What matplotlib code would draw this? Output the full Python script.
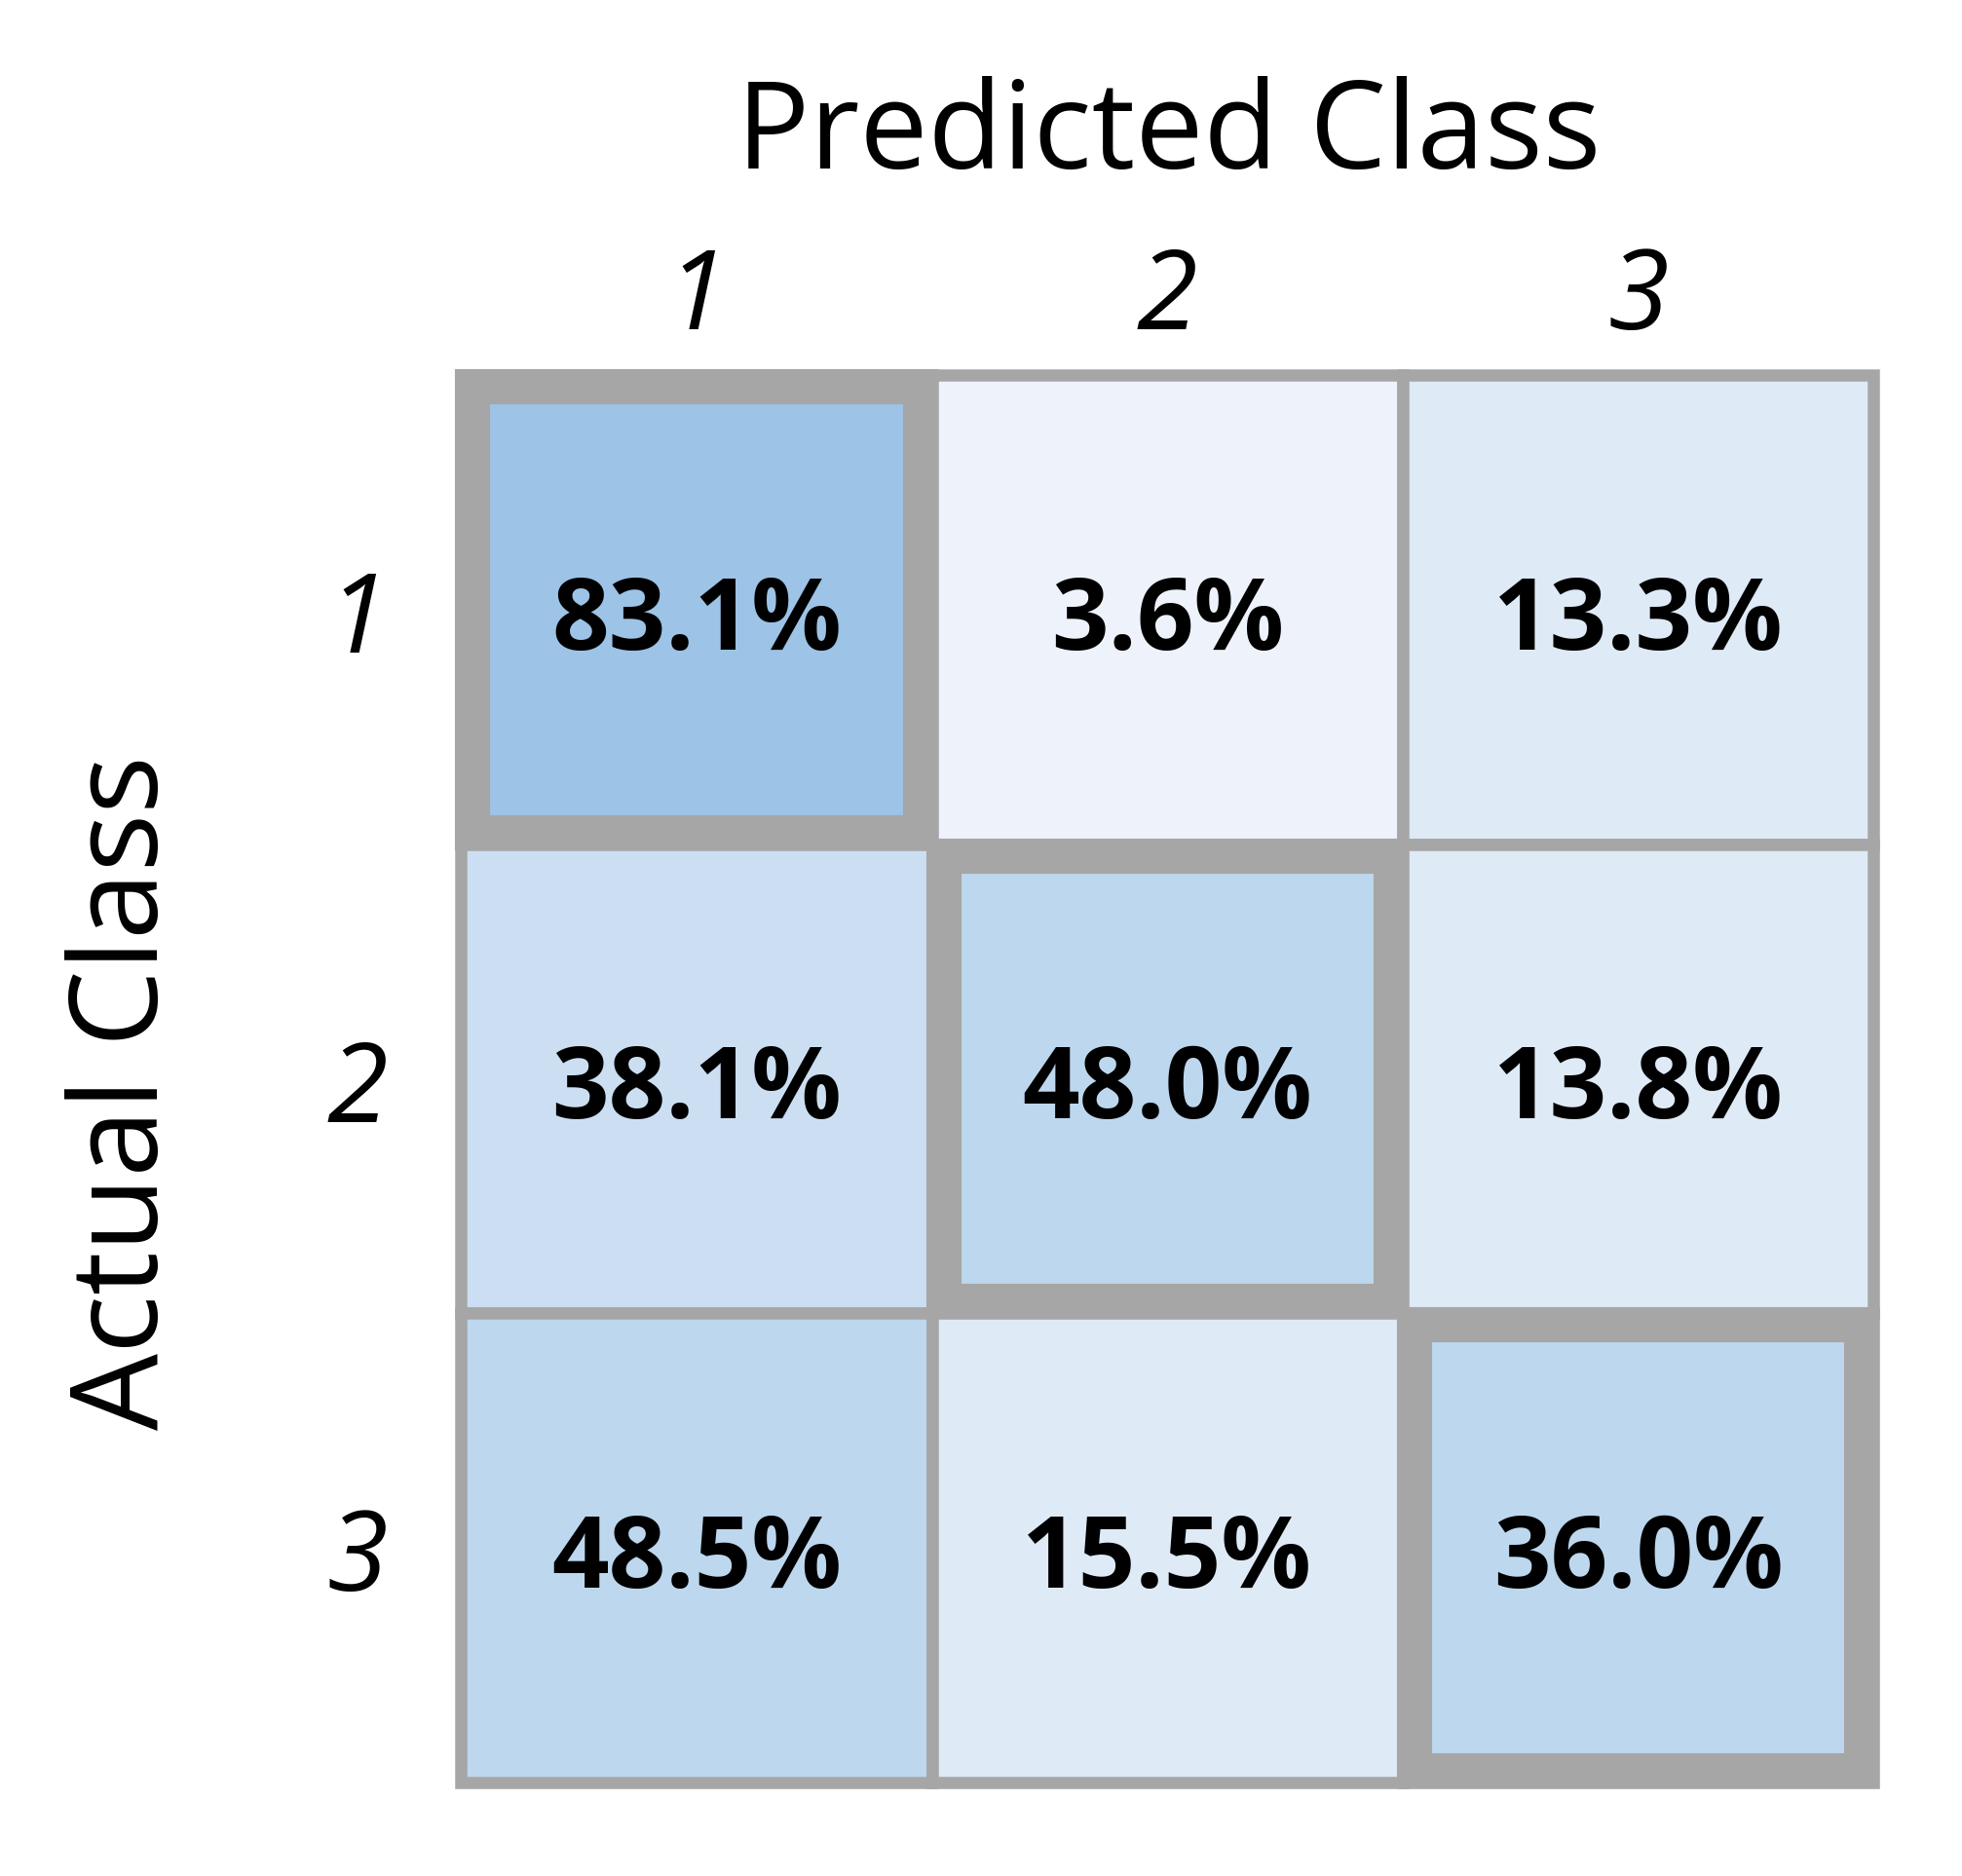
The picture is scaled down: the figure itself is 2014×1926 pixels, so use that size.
import matplotlib.pyplot as plt
from matplotlib.patches import Rectangle

classes = ["1", "2", "3"]
values = [
    [83.1, 3.6, 13.3],
    [38.1, 48.0, 13.8],
    [48.5, 15.5, 36.0],
]
cell_colors = [
    ["#9DC3E6", "#EEF3FB", "#DEEAF6"],
    ["#CCDFF2", "#BDD7EE", "#DEEAF6"],
    ["#BDD7EE", "#DEEAF6", "#BDD7EE"],
]
GRAY = "#A6A6A6"
FONT = ["Open Sans", "DejaVu Sans"]

fig = plt.figure(figsize=(20.14, 19.26), dpi=100)
ax = fig.add_axes([0.235, 0.05, 0.72, 0.75])
ax.set_xlim(0, 3)
ax.set_ylim(3, 0)
ax.axis("off")

for r in range(3):
    for c in range(3):
        ax.add_patch(Rectangle((c, r), 1, 1, facecolor=cell_colors[r][c],
                               edgecolor=GRAY, linewidth=9, clip_on=False, zorder=1))
        ax.text(c + 0.5, r + 0.53, f"{values[r][c]:.1f}%", ha="center", va="center",
                fontsize=74, fontweight="bold", family=FONT, zorder=3)

for i in range(3):
    d = 0.025
    ax.add_patch(Rectangle((i + d, i + d), 1 - 2 * d, 1 - 2 * d, facecolor="none",
                           edgecolor=GRAY, linewidth=26, clip_on=False, zorder=2))

for i, lab in enumerate(classes):
    ax.text(i + 0.5, -0.16, lab, ha="center", va="center", fontsize=82,
            style="italic", family=FONT, clip_on=False)
    ax.text(-0.22, i + 0.53, lab, ha="center", va="center", fontsize=82,
            style="italic", family=FONT, clip_on=False)

fig.text(1200 / 2014, 1 - 140 / 1926, "Predicted Class", ha="center", va="center",
         fontsize=90, family=FONT)
fig.text(130 / 2014, 1 - 1122 / 1926, "Actual Class", ha="center", va="center",
         fontsize=90, family=FONT, rotation=90)

fig.savefig("out.png", dpi=100, facecolor="white")
